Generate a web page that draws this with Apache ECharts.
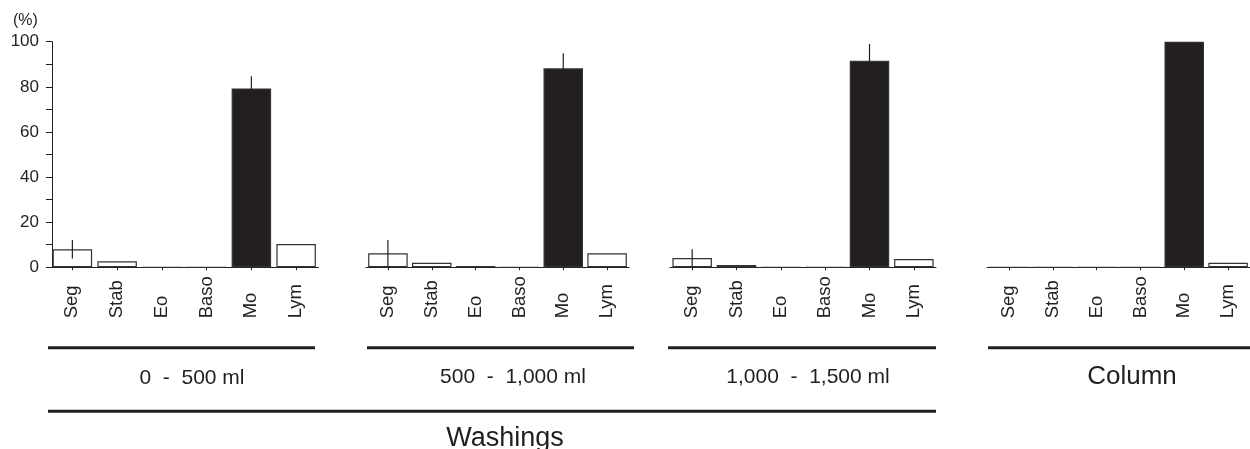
<!DOCTYPE html>
<html>
<head>
<meta charset="utf-8">
<script src="https://cdn.jsdelivr.net/npm/echarts@6/dist/echarts.min.js"></script>
<style>
html,body{margin:0;padding:0;background:#fff;}
#chart{width:1250px;height:449px;}
</style>
</head>
<body>
<div id="chart"></div>
<script>
// ---- data ----
const categories = ['Seg', 'Stab', 'Eo', 'Baso', 'Mo', 'Lym'];
const panelLabels = ['0  -  500 ml', '500  -  1,000 ml', '1,000  -  1,500 ml', 'Column'];
const groupLabel = 'Washings';
const valuesWash1 = [8.0, 2.7, 0, 0, 79.3, 10.3];
const errorsWash1 = [4.1, 0, 0, 0, 5.4, 0];
const valuesWash2 = [6.2, 2.0, 0.6, 0, 88.2, 6.2];
const errorsWash2 = [5.9, 0, 0, 0, 6.7, 0];
const valuesWash3 = [4.1, 1.0, 0, 0, 91.6, 3.7];
const errorsWash3 = [3.9, 0, 0, 0, 7.4, 0];
const valuesColumn = [0, 0, 0, 0, 100, 2.0];
const errorsColumn = [0, 0, 0, 0, 0, 0];
const yLabelTicks = [0, 20, 40, 60, 80, 100];
const yUnit = '(%)';

// ---- chart ----
const INK = '#231f20';
const FONT = '"Liberation Sans", Arial, Helvetica, sans-serif';
const values = [valuesWash1, valuesWash2, valuesWash3, valuesColumn];
const errors = [errorsWash1, errorsWash2, errorsWash3, errorsColumn];
const gridBoxes = [
  {left: 50, width: 268.5},
  {left: 366, width: 263},
  {left: 670, width: 266},
  {left: 987, width: 263}
];
const TOP = 41.7, HEIGHT = 225.6;

const grid = gridBoxes.map(b => ({left: b.left, width: b.width, top: TOP, height: HEIGHT}));
const xAxis = gridBoxes.map((b, i) => ({
  type: 'category', gridIndex: i, data: categories,
  axisLine: {show: true, lineStyle: {color: INK, width: 1}},
  axisTick: {show: true, alignWithLabel: true, interval: 0, length: 3, lineStyle: {color: INK}},
  axisLabel: {interval: 0, rotate: 90, align: 'left', verticalAlign: 'middle', margin: 51,
              fontSize: 18.5, color: INK, fontFamily: FONT},
  splitLine: {show: false}
}));
const yAxis = gridBoxes.map((b, i) => ({
  type: 'value', gridIndex: i, min: 0, max: 100, interval: 10,
  show: i === 0, offset: i === 0 ? -2 : 0,
  axisLine: {show: true, lineStyle: {color: INK, width: 1}},
  axisTick: {show: true, length: 6, lineStyle: {color: INK}},
  axisLabel: {show: true, margin: 13, fontSize: 17, color: INK, fontFamily: FONT,
              formatter: v => yLabelTicks.indexOf(v) >= 0 ? String(v) : ''},
  splitLine: {show: false}
}));

const series = [];
values.forEach((vals, i) => {
  series.push({
    type: 'bar', xAxisIndex: i, yAxisIndex: i, barWidth: 39.5,
    data: vals,
    itemStyle: {
      color: p => p.name === 'Mo' ? INK : '#ffffff',
      borderColor: '#333333', borderWidth: 1.2
    },
    silent: true, z: 2
  });
  const errData = [];
  errors[i].forEach((e, k) => { if (e > 0) errData.push([k, vals[k], e]); });
  series.push({
    type: 'custom', xAxisIndex: i, yAxisIndex: i, z: 5, silent: true,
    encode: {x: 0, y: 1},
    data: errData,
    renderItem: (params, api) => {
      const k = api.value(0), v = api.value(1), e = api.value(2);
      const a = api.coord([k, v + e]);
      const b = api.coord([k, v - e]);
      return {type: 'line', shape: {x1: a[0], y1: a[1], x2: b[0], y2: b[1]},
              style: {stroke: INK, lineWidth: 1.2}};
    }
  });
});

const lineStyle = {stroke: INK, lineWidth: 3};
const graphic = [
  {type: 'text', left: 13, top: 13, style: {text: yUnit, fontSize: 16, fill: INK, fontFamily: FONT}},
  {type: 'line', shape: {x1: 48, y1: 347.7, x2: 315, y2: 347.7}, style: lineStyle},
  {type: 'line', shape: {x1: 367, y1: 347.7, x2: 634, y2: 347.7}, style: lineStyle},
  {type: 'line', shape: {x1: 668, y1: 347.7, x2: 936, y2: 347.7}, style: lineStyle},
  {type: 'line', shape: {x1: 988, y1: 347.7, x2: 1250, y2: 347.7}, style: lineStyle},
  {type: 'line', shape: {x1: 48, y1: 411.3, x2: 936, y2: 411.3}, style: lineStyle},
  {type: 'text', x: 192, y: 378, style: {text: panelLabels[0], fontSize: 21, fill: INK, fontFamily: FONT, align: 'center', verticalAlign: 'middle'}},
  {type: 'text', x: 513, y: 377, style: {text: panelLabels[1], fontSize: 21, fill: INK, fontFamily: FONT, align: 'center', verticalAlign: 'middle'}},
  {type: 'text', x: 808, y: 377, style: {text: panelLabels[2], fontSize: 21, fill: INK, fontFamily: FONT, align: 'center', verticalAlign: 'middle'}},
  {type: 'text', x: 1132, y: 377, style: {text: panelLabels[3], fontSize: 26, fill: INK, fontFamily: FONT, align: 'center', verticalAlign: 'middle'}},
  {type: 'text', x: 505, y: 439, style: {text: groupLabel, fontSize: 27, fill: INK, fontFamily: FONT, align: 'center', verticalAlign: 'middle'}}
];

const chart = echarts.init(document.getElementById('chart'), null, {renderer: 'canvas'});
chart.setOption({
  animation: false,
  backgroundColor: '#ffffff',
  grid, xAxis, yAxis, series, graphic
});
</script>
</body>
</html>
